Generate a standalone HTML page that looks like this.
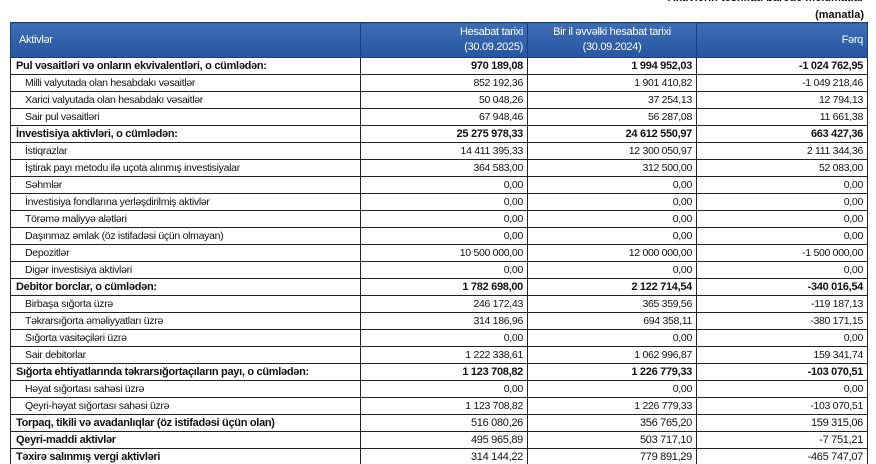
<!DOCTYPE html>
<html><head><meta charset="utf-8"><style>
html,body{margin:0;width:876px;height:464px;overflow:hidden}
body{background:#fff;font-family:"Liberation Sans",sans-serif;color:#111;position:relative}
.t1{position:absolute;right:12px;top:-8px;font-size:11px;font-weight:bold}
.t2{position:absolute;right:12px;top:9px;font-size:11px;font-weight:bold}
table{position:absolute;left:10px;top:22px;border-collapse:collapse;width:857px;table-layout:fixed}
td,th{border:1px solid #222;font-size:10.5px;height:16px;padding:0 4px;white-space:nowrap;overflow:hidden;letter-spacing:-0.3px}
th{background:linear-gradient(#3c6db5,#2656a0);color:#fff;font-weight:normal;height:34px;line-height:15px;font-size:11px;border-color:#1d3f78}
th.l{text-align:left;padding-left:8px}
th.r{text-align:right}
td{text-align:right}
td:first-child{text-align:left;padding-left:14px}
tr.b td{font-weight:bold;font-size:11px}
tr.b td:first-child{padding-left:5px}
</style></head><body>
<div class="t1">Aktivlərin təsnifatı barədə məlumatlar</div>
<div class="t2">(manatla)</div>
<table>
<colgroup><col style="width:350px"><col style="width:167px"><col style="width:169px"><col style="width:171px"></colgroup>
<tr><th class="l">Aktivlər</th><th class="r">Hesabat tarixi<br>(30.09.2025)</th><th style="text-align:center">Bir il əvvəlki hesabat tarixi<br>(30.09.2024)</th><th class="r">Fərq</th></tr>
<tr class="b"><td>Pul vəsaitləri və onların ekvivalentləri, o cümlədən:</td><td>970 189,08</td><td>1 994 952,03</td><td>-1 024 762,95</td></tr>
<tr><td>Milli valyutada olan hesabdakı vəsaitlər</td><td>852 192,36</td><td>1 901 410,82</td><td>-1 049 218,46</td></tr>
<tr><td>Xarici valyutada olan hesabdakı vəsaitlər</td><td>50 048,26</td><td>37 254,13</td><td>12 794,13</td></tr>
<tr><td>Sair pul vəsaitləri</td><td>67 948,46</td><td>56 287,08</td><td>11 661,38</td></tr>
<tr class="b"><td>İnvestisiya aktivləri, o cümlədən:</td><td>25 275 978,33</td><td>24 612 550,97</td><td>663 427,36</td></tr>
<tr><td>İstiqrazlar</td><td>14 411 395,33</td><td>12 300 050,97</td><td>2 111 344,36</td></tr>
<tr><td>İştirak payı metodu ilə uçota alınmış investisiyalar</td><td>364 583,00</td><td>312 500,00</td><td>52 083,00</td></tr>
<tr><td>Səhmlər</td><td>0,00</td><td>0,00</td><td>0,00</td></tr>
<tr><td>İnvestisiya fondlarına yerləşdirilmiş aktivlər</td><td>0,00</td><td>0,00</td><td>0,00</td></tr>
<tr><td>Törəmə maliyyə alətləri</td><td>0,00</td><td>0,00</td><td>0,00</td></tr>
<tr><td>Daşınmaz əmlak (öz istifadəsi üçün olmayan)</td><td>0,00</td><td>0,00</td><td>0,00</td></tr>
<tr><td>Depozitlər</td><td>10 500 000,00</td><td>12 000 000,00</td><td>-1 500 000,00</td></tr>
<tr><td>Digər investisiya aktivləri</td><td>0,00</td><td>0,00</td><td>0,00</td></tr>
<tr class="b"><td>Debitor borclar, o cümlədən:</td><td>1 782 698,00</td><td>2 122 714,54</td><td>-340 016,54</td></tr>
<tr><td>Birbaşa sığorta üzrə</td><td>246 172,43</td><td>365 359,56</td><td>-119 187,13</td></tr>
<tr><td>Təkrarsığorta əməliyyatları üzrə</td><td>314 186,96</td><td>694 358,11</td><td>-380 171,15</td></tr>
<tr><td>Sığorta vasitəçiləri üzrə</td><td>0,00</td><td>0,00</td><td>0,00</td></tr>
<tr><td>Sair debitorlar</td><td>1 222 338,61</td><td>1 062 996,87</td><td>159 341,74</td></tr>
<tr class="b"><td>Sığorta ehtiyatlarında təkrarsığortaçıların payı, o cümlədən:</td><td>1 123 708,82</td><td>1 226 779,33</td><td>-103 070,51</td></tr>
<tr><td>Həyat sığortası sahəsi üzrə</td><td>0,00</td><td>0,00</td><td>0,00</td></tr>
<tr><td>Qeyri-həyat sığortası sahəsi üzrə</td><td>1 123 708,82</td><td>1 226 779,33</td><td>-103 070,51</td></tr>
<tr class="b"><td>Torpaq, tikili və avadanlıqlar (öz istifadəsi üçün olan)</td><td style="font-weight:normal">516 080,26</td><td style="font-weight:normal">356 765,20</td><td style="font-weight:normal">159 315,06</td></tr>
<tr class="b"><td>Qeyri-maddi aktivlər</td><td style="font-weight:normal">495 965,89</td><td style="font-weight:normal">503 717,10</td><td style="font-weight:normal">-7 751,21</td></tr>
<tr class="b"><td>Təxirə salınmış vergi aktivləri</td><td style="font-weight:normal">314 144,22</td><td style="font-weight:normal">779 891,29</td><td style="font-weight:normal">-465 747,07</td></tr>
</table>
</body></html>
